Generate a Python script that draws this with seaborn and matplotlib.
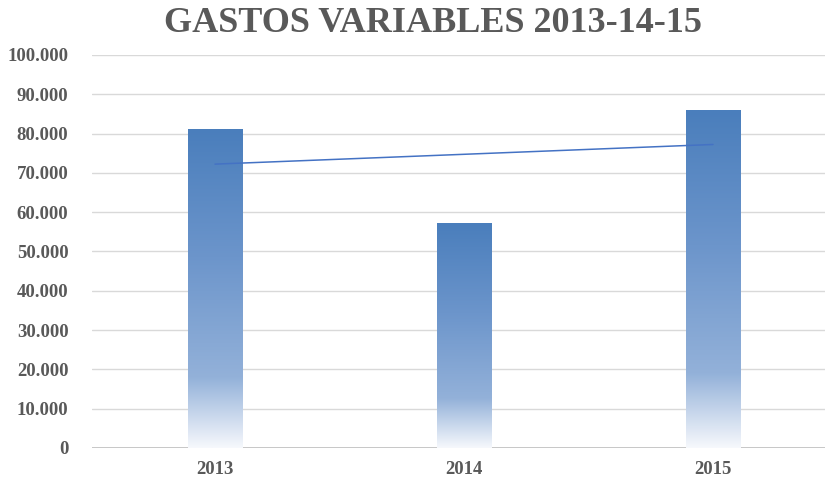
import matplotlib
matplotlib.use("Agg")
import matplotlib.pyplot as plt
from matplotlib.colors import LinearSegmentedColormap
from matplotlib.ticker import FuncFormatter
import numpy as np
import pandas as pd
import seaborn as sns

years = ["2013", "2014", "2015"]
gastos = [81000, 57200, 86000]
y_ticks = list(range(0, 100001, 10000))

sns.set_theme(style="white")
plt.rcParams["font.family"] = ["Liberation Serif", "DejaVu Serif"]

text_color = "#595959"
grad = LinearSegmentedColormap.from_list(
    "bar_grad",
    [(0.0, "#f6f8fc"), (0.22, "#93b1d9"), (0.6, "#6c95cb"), (1.0, "#4a7ebc")],
)

df = pd.DataFrame({"year": years, "gastos": gastos})

fig = plt.figure(figsize=(8.25, 4.8), dpi=100)
ax = fig.add_axes([92 / 825, 32 / 480, 1 - 92 / 825, (448 - 55) / 480])

sns.barplot(data=df, x="year", y="gastos", width=0.22, color="#4a7ebc", ax=ax, zorder=2)

# swap the flat bars for a vertical gradient fill
img = np.linspace(0, 1, 256).reshape(-1, 1)
for patch in ax.patches:
    x0, w, h = patch.get_x(), patch.get_width(), patch.get_height()
    patch.set_alpha(0)
    ax.imshow(img, cmap=grad, origin="lower", aspect="auto",
              extent=[x0, x0 + w, 0, h], zorder=2, interpolation="bilinear")

# linear trend line over the bars
xs = np.arange(len(gastos))
slope, intercept = np.polyfit(xs, gastos, 1)
ax.plot(xs, slope * xs + intercept, color="#4472c4", lw=1.1, zorder=3)

ax.set_xlim(-0.494, 2.45)
ax.set_ylim(0, 100000)
ax.set_yticks(y_ticks)
ax.yaxis.set_major_formatter(FuncFormatter(lambda v, p: f"{int(v):,}".replace(",", ".")))
ax.grid(axis="y", color="#d9d9d9", lw=1, zorder=0)
ax.axhline(0, color="#bfbfbf", lw=1.2, zorder=1)
for s in ax.spines.values():
    s.set_visible(False)
ax.set_xlabel("")
ax.set_ylabel("")
ax.tick_params(axis="both", length=0, labelsize=13.5, labelcolor=text_color)
ax.tick_params(axis="y", pad=17)
ax.tick_params(axis="x", pad=9)
for lab in ax.get_xticklabels() + ax.get_yticklabels():
    lab.set_fontweight("bold")

fig.text(433 / 825, 1 - 24 / 480, "GASTOS VARIABLES 2013-14-15", ha="center", va="center",
         fontsize=26, fontweight="bold", color=text_color)

fig.savefig("out.png", dpi=100)
